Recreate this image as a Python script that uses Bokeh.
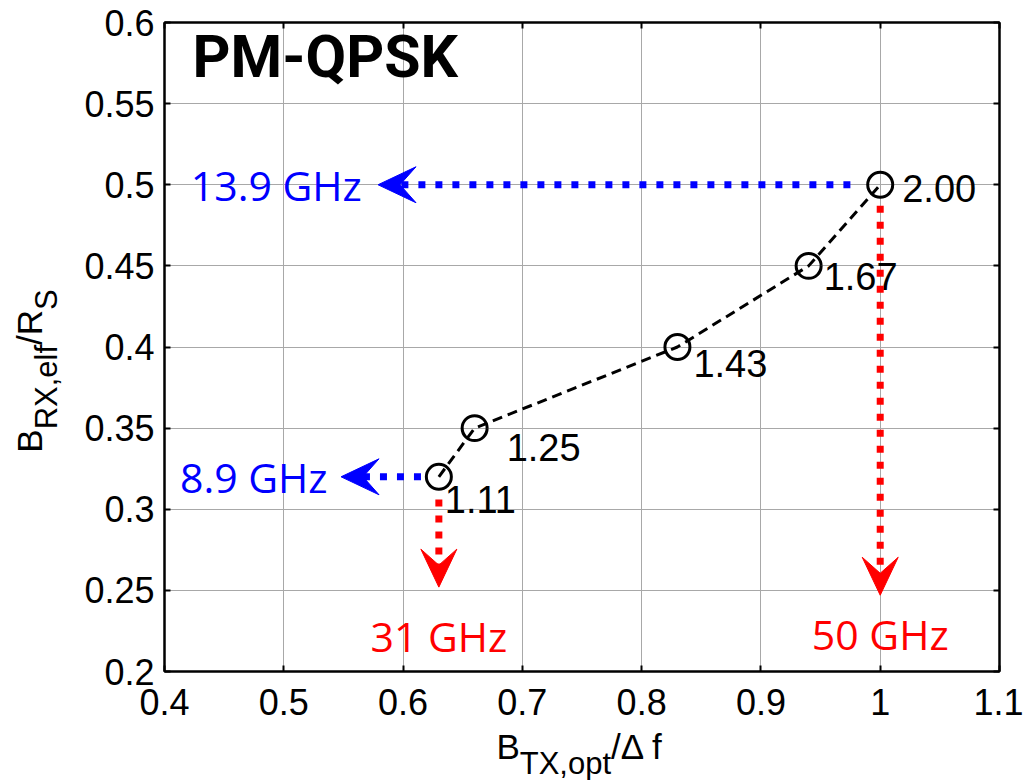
import math
from bokeh.plotting import figure
from bokeh.layouts import row, column
from bokeh.models import FixedTicker, LinearAxis
from bokeh.core.properties import value
from bokeh.embed import file_html
from bokeh.resources import INLINE

# Optical TX bandwidth vs electrical RX bandwidth (normalised), PM-QPSK
tx_bw = [0.63, 0.66, 0.83, 0.94, 1.00]
rx_bw = [0.32, 0.35, 0.40, 0.45, 0.50]
ratio_labels = ["1.11", "1.25", "1.43", "1.67", "2.00"]
ratio_dx = [6, 32, 16, 15, 22]      # label offsets in pixels
ratio_dy = [23, 19, 16, 11, 4]

x_ticks = [0.4, 0.5, 0.6, 0.7, 0.8, 0.9, 1.0, 1.1]
x_tick_labels = ["0.4", "0.5", "0.6", "0.7", "0.8", "0.9", "1", "1.1"]
y_ticks = [0.2, 0.25, 0.3, 0.35, 0.4, 0.45, 0.5, 0.55, 0.6]
y_tick_labels = ["0.2", "0.25", "0.3", "0.35", "0.4", "0.45", "0.5", "0.55", "0.6"]

# receiver bandwidth read-outs (horizontal, blue)
rx_arrow_start = [0.975, 0.615]
rx_arrow_tip = [0.579, 0.548]
rx_arrow_y = [0.50, 0.32]
rx_text = ["13.9 GHz", "8.9 GHz"]
rx_text_x = [0.422, 0.413]

# transmitter bandwidth read-outs (vertical, red)
tx_arrow_x = [1.00, 0.63]
tx_arrow_start = [0.487, 0.306]
tx_arrow_tip = [0.247, 0.252]
tx_text = ["50 GHz", "31 GHz"]
tx_text_y = [0.223, 0.222]

# page / frame geometry (pixels from top-left of the page)
W, H = 1023, 780
LW, BH = 78, 52                 # strips holding the axis titles
FL, FR, FT, FB = 164, 999, 22, 671
X0, X1, Y0, Y1 = 0.4, 1.1, 0.2, 0.6
ux = (X1 - X0) / (FR - FL)      # data units per pixel
uy = (Y1 - Y0) / (FB - FT)

AX_FONT = "Liberation Sans"
ANN_FONT = "Open Sans"
BLUE = "#0000ff"
RED = "#ff0000"

MW, MH = W - LW, H - BH
p = figure(width=MW, height=MH, x_range=(X0, X1), y_range=(Y0, Y1),
           output_backend="svg", toolbar_location=None, title=None,
           min_border_left=FL - LW, min_border_right=W - FR,
           min_border_top=FT, min_border_bottom=MH - FB)
p.background_fill_color = "white"
p.border_fill_color = "white"
p.outline_line_color = "black"
p.outline_line_width = 2

xt = FixedTicker(ticks=x_ticks)
yt = FixedTicker(ticks=y_ticks)


def style_axis(ax, ticker, labels=None):
    ax.ticker = ticker
    ax.axis_line_color = "black"
    ax.axis_line_width = 2
    ax.major_tick_in = 6
    ax.major_tick_out = 0
    ax.major_tick_line_width = 2
    ax.minor_tick_line_color = None
    if labels is None:
        ax.major_label_text_font_size = "0px"
        ax.major_label_text_alpha = 0
    else:
        ax.major_label_overrides = dict(zip(ticker.ticks, labels))
        ax.major_label_text_font = AX_FONT
        ax.major_label_text_font_size = "36px"
        ax.major_label_text_color = "black"


style_axis(p.xaxis[0], xt, x_tick_labels)
style_axis(p.yaxis[0], yt, y_tick_labels)
p.xaxis[0].major_label_standoff = 17
p.yaxis[0].major_label_standoff = 10

top_ax = LinearAxis()
right_ax = LinearAxis()
style_axis(top_ax, xt)
style_axis(right_ax, yt)
p.add_layout(top_ax, "above")
p.add_layout(right_ax, "right")

for g in (p.xgrid[0], p.ygrid[0]):
    g.grid_line_color = "#a8a8a8"
    g.grid_line_width = 1
p.xgrid[0].ticker = xt
p.ygrid[0].ticker = yt

# measured curve
p.line(tx_bw, rx_bw, line_color="black", line_width=3, line_dash="10 6")
p.scatter(tx_bw, rx_bw, marker="circle", size=25, fill_color=None,
          line_color="black", line_width=3)
p.text(tx_bw, rx_bw, text=ratio_labels, x_offset=ratio_dx, y_offset=ratio_dy,
       text_font=value(AX_FONT), text_font_size="38px", text_color="black",
       text_align="left", text_baseline="middle")

# annotation texts
p.text([0.4235], [0.579], text=["PM-QPSK"], text_font=value("Roboto"),
       text_font_style="bold", text_font_size="59px", text_color="black",
       text_align="left", text_baseline="middle")
p.text(rx_text_x, rx_arrow_y, text=rx_text, text_font=value(ANN_FONT),
       text_font_size="41px", text_color=BLUE, text_align="left",
       text_baseline="middle")
p.text(tx_arrow_x, tx_text_y, text=tx_text, text_font=value(ANN_FONT),
       text_font_size="41px", text_color=RED, text_align="center",
       text_baseline="middle")

HEAD_L, HEAD_W, HEAD_N = 38, 18, 22   # head length, half width, notch depth (px)


def head_left(tx, ty):
    return ([tx, tx + HEAD_L * ux, tx + HEAD_N * ux, tx + HEAD_L * ux],
            [ty, ty + HEAD_W * uy, ty, ty - HEAD_W * uy])


def head_down(tx, ty):
    return ([tx, tx - HEAD_W * ux, tx, tx + HEAD_W * ux],
            [ty, ty + HEAD_L * uy, ty + HEAD_N * uy, ty + HEAD_L * uy])


# horizontal arrows
p.segment(x0=rx_arrow_start, y0=rx_arrow_y,
          x1=[t + HEAD_N * ux for t in rx_arrow_tip], y1=rx_arrow_y,
          line_color=BLUE, line_width=7, line_dash="7 10", line_cap="butt")
hx, hy = zip(*[head_left(t, y) for t, y in zip(rx_arrow_tip, rx_arrow_y)])
p.patches(list(hx), list(hy), fill_color=BLUE, line_color=BLUE, line_width=1)

# vertical arrows
p.segment(x0=tx_arrow_x, y0=tx_arrow_start,
          x1=tx_arrow_x, y1=[t + HEAD_N * uy for t in tx_arrow_tip],
          line_color=RED, line_width=7, line_dash="7 9", line_cap="butt")
vx, vy = zip(*[head_down(x, t) for x, t in zip(tx_arrow_x, tx_arrow_tip)])
p.patches(list(vx), list(vy), fill_color=RED, line_color=RED, line_width=1)


# strips for the axis titles; their data coordinates are page pixels
# (x to the right, y measured upward from the bottom of the page)
def title_strip(width, height, y_lo):
    f = figure(frame_width=width, frame_height=height,
               x_range=(0, width), y_range=(y_lo, y_lo + height),
               output_backend="svg", toolbar_location=None, title=None,
               min_border=0, x_axis_location=None, y_axis_location=None)
    f.outline_line_color = None
    f.background_fill_color = "white"
    f.border_fill_color = "white"
    f.xgrid.visible = False
    f.ygrid.visible = False
    return f


left_strip = title_strip(LW, MH, BH)
bottom_strip = title_strip(W, BH, 0)


def put(fig, text, x, y_page, size, angle=0.0):
    fig.text([x], [H - y_page], text=[text], text_font=value(AX_FONT),
             text_font_size=f"{size}px", text_color="black",
             text_align="left", text_baseline="middle", angle=angle)


MAIN, SUB = 35, 31
# x title: B_{TX,opt}/Δ f
xc = (FL + FR) / 2 - 2
xw = [0.667 * MAIN, 2.946 * SUB, 1.5 * MAIN]
sx = xc - sum(xw) / 2
put(bottom_strip, "B", sx, 746, MAIN)
put(bottom_strip, "TX,opt", sx + xw[0], 763, SUB)
put(bottom_strip, "/\u0394 f", sx + xw[0] + xw[1], 746, MAIN)

# y title: B_{RX,elf}/R_S, reading upward
yc = (FT + FB) / 2
yw = [0.667 * MAIN, 2.723 * SUB, 1.0 * MAIN, 0.667 * SUB]
sy = yc + sum(yw) / 2 + 2
rot = math.pi / 2
put(left_strip, "B", 29, sy, MAIN, rot)
put(left_strip, "RX,elf", 46, sy - yw[0], SUB, rot)
put(left_strip, "/R", 29, sy - yw[0] - yw[1], MAIN, rot)
put(left_strip, "S", 46, sy - yw[0] - yw[1] - yw[2], SUB, rot)

layout = column(row(left_strip, p), bottom_strip)
open("out.html", "w").write(file_html(layout, INLINE))
